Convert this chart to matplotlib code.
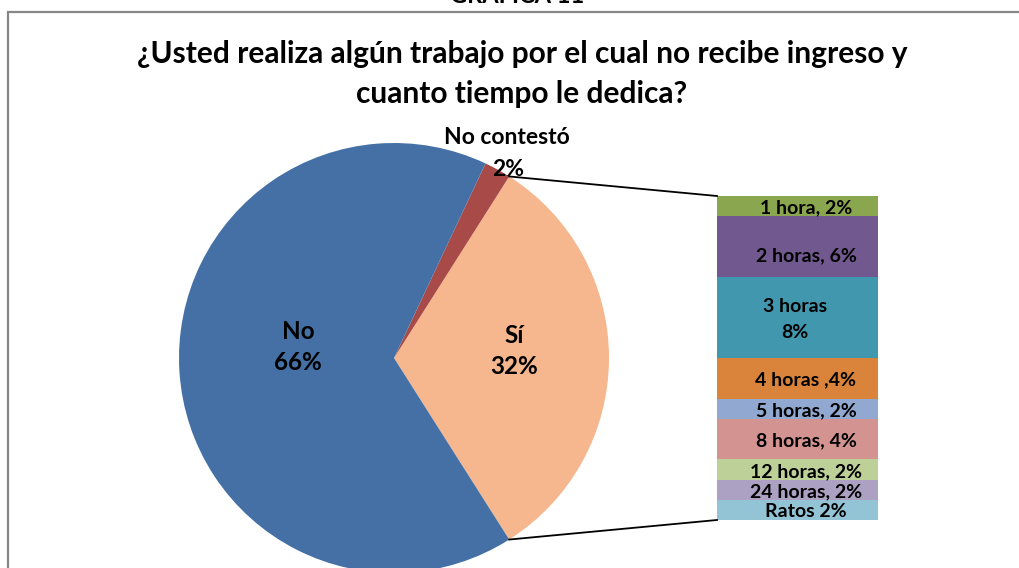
import numpy as np
import matplotlib
matplotlib.use("Agg")
import matplotlib.pyplot as plt
from matplotlib.patches import Rectangle

plt.rcParams['font.family'] = ['Lato', 'DejaVu Sans']

# pie data
pie_labels = ['Sí', 'No contestó', 'No']
pie_values = [32, 2, 66]
pie_colors = ['#F6B68E', '#A84A47', '#4470A5']

# bar of pie (breakdown of "Sí"), top to bottom
bar_labels = ['1 hora, 2%', '2 horas, 6%', '3 horas\n8%', '4 horas ,4%', '5 horas, 2%',
              '8 horas, 4%', '12 horas, 2%', '24 horas, 2%', 'Ratos 2%']
bar_values = [2, 6, 8, 4, 2, 4, 2, 2, 2]
bar_colors = ['#8AA64E', '#71588F', '#4197AE', '#DA843B', '#91A8D0',
              '#D39391', '#BCD097', '#ACA0C3', '#93C4D5']

W, H = 1020, 568
fig = plt.figure(figsize=(W / 100, H / 100), dpi=100)
ax = fig.add_axes([0, 0, 1, 1])

# frame of the chart area
ax.add_patch(Rectangle((8, -20), 1100, H - 12 + 20, fill=False,
                       edgecolor='#878787', linewidth=1.6))

ax.text(517, H - 7, 'GRÁFICA 11', ha='center', va='bottom',
        fontsize=17, fontweight='bold')
ax.text(522, H - 74, '¿Usted realiza algún trabajo por el cual no recibe ingreso y\ncuanto tiempo le dedica?',
        ha='center', va='center', fontsize=21.5, fontweight='bold', linespacing=1.55)

# pie
cx, cy, r = 394, H - 358, 215
start = -360 * pie_values[0] / 100 / 2
wedges, _ = ax.pie(pie_values, colors=pie_colors, center=(cx, cy), radius=r,
                   startangle=start, counterclock=True, frame=True)
ax.set_xlim(0, W)
ax.set_ylim(0, H)
ax.set_aspect('equal')
ax.axis('off')

ax.text(298, H - 347, 'No\n66%', ha='center', va='center', fontsize=17.5,
        fontweight='bold', linespacing=1.45)
ax.text(514, H - 351, 'Sí\n32%', ha='center', va='center', fontsize=17.5,
        fontweight='bold', linespacing=1.45)
ax.text(507, H - 138, 'No contestó', ha='center', va='center', fontsize=16.5, fontweight='bold')
ax.text(508, H - 170, '2%', ha='center', va='center', fontsize=16.5, fontweight='bold')

# stacked bar
bx0, bx1 = 717, 878
scale = 324 / sum(bar_values)
bottom = H - 520
for lab, v, c in zip(bar_labels[::-1], bar_values[::-1], bar_colors[::-1]):
    ax.bar((bx0 + bx1) / 2, v * scale, width=bx1 - bx0, bottom=bottom, color=c, linewidth=0)
    tx = 795 if '\n' in lab else 806
    dy = -9 if lab.startswith('2 horas') else -2
    ax.text(tx, bottom + v * scale / 2 + dy, lab, ha='center', va='center',
            fontsize=14, fontweight='bold', linespacing=1.65)
    bottom += v * scale
top = bottom

# connector lines from "Sí" wedge edges to bar
a = np.deg2rad(360 * pie_values[0] / 100 / 2)
ax.plot([cx + r * np.cos(a), bx0], [cy + r * np.sin(a), top], color='black', lw=1.3)
ax.plot([cx + r * np.cos(a), bx0], [cy - r * np.sin(a), H - 520], color='black', lw=1.3)

fig.savefig('out.png', dpi=100)
